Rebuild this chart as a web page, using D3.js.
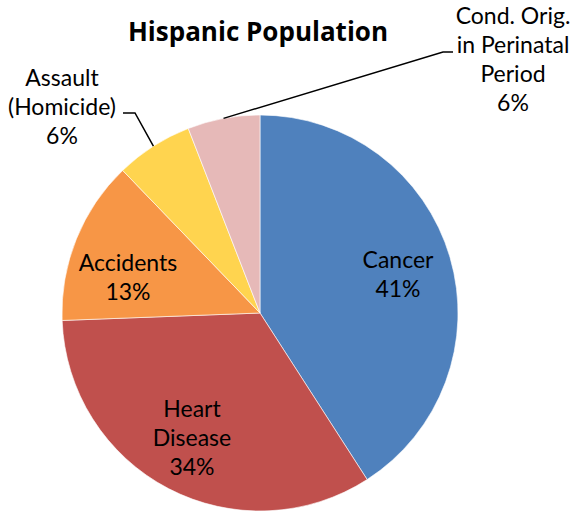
<!DOCTYPE html>
<html>
<head>
<meta charset="utf-8">
<script src="https://cdn.jsdelivr.net/npm/d3@7"></script>
<style>
  body { margin: 0; background: #fff; }
  text { font-family: Lato, "Liberation Sans", sans-serif; fill: #000; }
</style>
</head>
<body>
<div id="chart"></div>
<script>
// Data (percent of deaths)
const causes = ["Cancer", "Heart Disease", "Accidents", "Assault (Homicide)", "Cond. Orig. in Perinatal Period"];
const shares = [40.9, 33.5, 13.4, 6.3, 5.9];
const labelLines = [
    ["Cancer"],
    ["Heart", "Disease"],
    ["Accidents"],
    ["Assault", "(Homicide)"],
    ["Cond. Orig.", "in Perinatal", "Period"]
];
const colors = ["#4F81BD", "#C0504D", "#F79646", "#FFD44F", "#E6B9B8"];

const width = 571, height = 513;
const cx = 260, cy = 313, radius = 198;
const lineH = 29;

const svg = d3.select("#chart").append("svg")
    .attr("width", width)
    .attr("height", height);

// Title
svg.append("text")
    .attr("x", 258)
    .attr("y", 41)
    .attr("text-anchor", "middle")
    .style("font-family", "'Open Sans', Lato, sans-serif")
    .style("font-size", "26px")
    .style("font-weight", "bold")
    .text("Hispanic Population");

const pie = d3.pie().sort(null).value(d => d);
const arcs = pie(shares);

const arc = d3.arc().innerRadius(0).outerRadius(radius);
const edge = d3.arc().innerRadius(radius).outerRadius(radius);

const g = svg.append("g")
    .attr("transform", "translate(" + cx + "," + cy + ")");

g.selectAll("path")
    .data(arcs).enter()
    .append("path")
    .attr("d", arc)
    .attr("fill", (d, i) => colors[i])
    .attr("stroke", "#fff")
    .attr("stroke-width", 0.6);

// label spots relative to the pie centre (x = centre of text, y = first baseline),
// outside labels also get the elbow and end of their leader line
const labelPos = [
    { inside: true, dx: 138, dy: -45 },
    { inside: true, dx: -68, dy: 104 },
    { inside: true, dx: -132, dy: -42 },
    { inside: false, dx: -198, dy: -227, elbow: [-125, -200], end: [-137, -200] },
    { inside: false, dx: 253, dy: -289, elbow: [183, -261], end: [193, -261] }
];

arcs.forEach(function (d, i) {
    const p = labelPos[i];
    const lines = labelLines[i].concat([Math.round(shares[i]) + "%"]);
    const t = g.append("text")
        .attr("text-anchor", "middle")
        .style("font-size", "23px");
    lines.forEach(function (s, k) {
        t.append("tspan")
            .attr("x", p.dx)
            .attr("y", p.dy + k * lineH)
            .text(s);
    });
    if (!p.inside) {
        const e = edge.centroid(d);
        g.append("polyline")
            .attr("points", [e, p.elbow, p.end].map(q => q.join(",")).join(" "))
            .attr("fill", "none")
            .attr("stroke", "#000")
            .attr("stroke-width", 1.5);
    }
});
</script>
</body>
</html>
